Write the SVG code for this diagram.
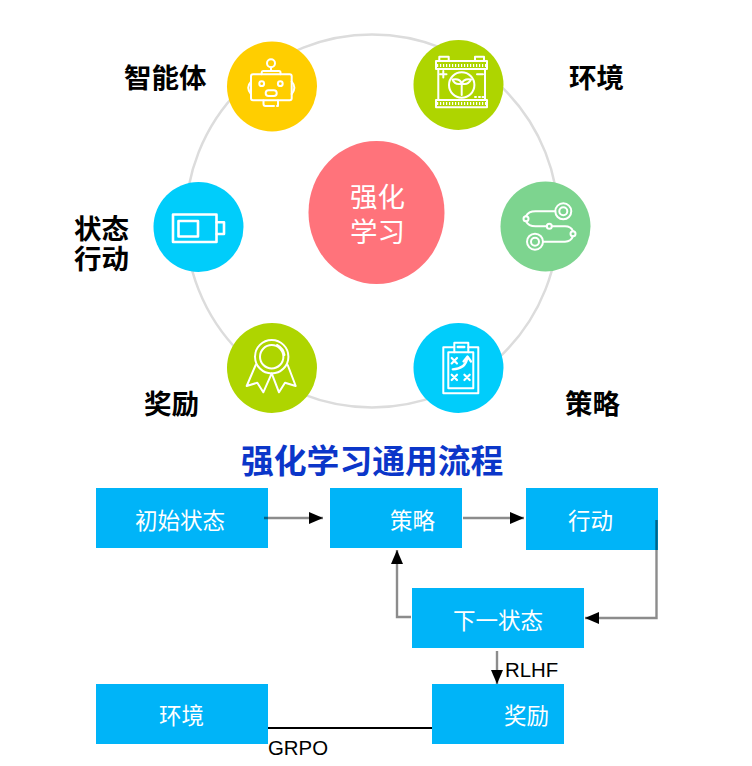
<svg xmlns="http://www.w3.org/2000/svg" width="752" height="766" viewBox="0 0 752 766">
<defs>
<style>
.lbl{font-family:"Noto Sans CJK SC",sans-serif;font-size:27.5px;font-weight:700;fill:#000}
.ctr{font-family:"Noto Sans CJK SC",sans-serif;font-size:27.5px;fill:#fff}
.ttl{font-family:"Noto Sans CJK SC",sans-serif;font-size:32.8px;font-weight:700;fill:#0b36c9}
.box{fill:#00b4f8}
.bt{font-family:"Noto Sans CJK SC",sans-serif;font-size:22.5px;fill:#fff}
.lat{font-family:"Liberation Sans",Arial,sans-serif;font-size:20.4px;fill:#000}
.ic{fill:none;stroke:#fff;stroke-width:2;stroke-linecap:round;stroke-linejoin:round}
.conn{fill:none;stroke:#000;stroke-opacity:.45;stroke-width:2.4}
</style>
<marker id="arr" markerUnits="userSpaceOnUse" markerWidth="14" markerHeight="12" refX="14" refY="6" orient="auto"><path d="M0 0L14 6L0 12Z" fill="#000"/></marker>
</defs>
<rect width="752" height="766" fill="#fff"/>
<circle id="ring" cx="372" cy="221" r="186.500" fill="none" stroke="#dcdcdc" stroke-width="2.500"/>
<g id="node-center"><ellipse cx="376.500" cy="212.500" rx="68" ry="71.500" fill="#ff737b"/><text class="ctr" x="350" y="207">强化</text><text class="ctr" x="350" y="242">学习</text></g>
<g id="node-agent"><circle cx="272" cy="86.500" r="45" fill="#ffce00"/>
<g class="ic"><circle cx="271" cy="63.300" r="4"/><path d="M271 67.300V71M261.700 74.300V72.500Q261.700 71 263 71H279Q280.500 71 280.500 72.500V74.300"/><rect x="251" y="74.300" width="40.700" height="26" rx="2"/><path d="M251 81.700Q245.500 87.500 251 94M291.700 81.700Q297 87.500 291.700 94"/><circle cx="261.700" cy="83.700" r="2.400"/><circle cx="280.300" cy="83.700" r="2.400"/><rect x="265.700" y="90.300" width="11" height="5.700" rx="2.800"/><path d="M263.500 100.500V104Q263.500 106 265.500 106H274M277 106H278V100.500"/></g>
<text class="lbl" x="124" y="87.500">智能体</text></g>
<g id="node-env"><circle cx="458.500" cy="85" r="45" fill="#aed500"/>
<g class="ic"><path d="M439.300 61V56.700H448.700V61M475 61V56.700H484V61"/><rect x="436" y="61" width="51" height="8"/><rect x="436" y="100" width="51" height="7.300"/><path d="M438.300 69V100M485 69V100"/><path d="M437 65.500H486M437 103.500H486" stroke-width="3" stroke-dasharray="1.200 1.800" stroke-linecap="butt"/><circle cx="461.700" cy="85" r="12.700"/><path d="M440 74.300H446.500M443.300 71V77.600M477 74.300H483M475 97H476M479 97H480M482.500 97H483.500"/><path d="M461.700 95V83.500M461.700 83.500Q460 78 452.500 79.500Q455 85.500 461.700 83.500M461.700 83.500Q464 78 471 79.500Q468 85.500 461.700 83.500"/></g>
<text class="lbl" x="569" y="87.500">环境</text></g>
<g id="node-state"><circle cx="198.500" cy="227" r="45" fill="#00cdfb"/>
<g class="ic" stroke-linecap="butt" stroke-linejoin="miter" style="stroke-width:2.600"><rect x="173" y="214.500" width="43.500" height="27.500"/><rect x="178.500" y="221" width="19.500" height="15.500"/><path d="M216.700 222.300H224V234H216.700"/></g>
<text class="lbl" x="74" y="238.500">状态</text><text class="lbl" x="74" y="268.500">行动</text></g>
<g id="node-policy-icon"><circle cx="545.500" cy="226.500" r="45" fill="#7dd48f"/>
<g class="ic"><circle cx="563.300" cy="211.300" r="8"/><circle cx="563.300" cy="211.300" r="4"/><circle cx="535" cy="241.700" r="8"/><circle cx="535" cy="241.700" r="4"/><path d="M555.300 211.300H535.500Q528.500 211.300 526 216.200M526 221.200Q528.500 226.300 535.500 226.300H546.800M551.800 226.300H565Q571 226.300 573 231.200M573 236.200Q571 241.700 565 241.700H543"/><circle cx="526" cy="218.700" r="2.500"/><circle cx="549.300" cy="226.300" r="2.500"/><circle cx="573" cy="233.700" r="2.500"/></g></g>
<g id="node-reward"><circle cx="272" cy="368" r="45" fill="#aed500"/>
<g class="ic"><circle cx="271.700" cy="356.700" r="16.700"/><circle cx="271.700" cy="356.700" r="11.700"/><path d="M277 345Q283.500 348.500 284.500 355"/><path d="M255.700 365L246.700 386L257.300 382.700L263.300 392.300L271.700 373.300L279 392.300L285 382.700L295.700 386L287.700 365"/></g>
<text class="lbl" x="144" y="413.500">奖励</text></g>
<g id="node-plan"><circle cx="458.500" cy="368" r="45" fill="#00cdfb"/>
<g class="ic" stroke-linecap="butt" stroke-linejoin="miter"><path d="M454.300 347.300H443.300V393.300H478.300V347.300H468.300"/><path d="M454.300 352.300H448.300V388.300H473.300V352.300H468.300"/><path d="M454.300 352.300V342.700H468.300V352.300H454.300"/><path d="M457.700 347H464.300" stroke-width="2.400"/><path d="M451.700 358L457 363.400M457 358L451.700 363.400M451.700 374.700L457 380M457 374.700L451.700 380M464.400 374.700L469.700 380M469.700 374.700L464.400 380" style="stroke-width:2.200"/><path d="M452.700 369.300Q465.500 369 467.300 358M463.500 361.500L467.500 356.500L471 361.500" style="stroke-width:2.200"/></g>
<text class="lbl" x="565" y="413.500">策略</text></g>
<text id="title" class="ttl" x="241" y="473">强化学习通用流程</text>
<g id="box-init"><rect class="box" x="96" y="488" width="172" height="60"/><text class="bt" x="135" y="529">初始状态</text></g>
<g id="box-policy"><rect class="box" x="330" y="488" width="132" height="60"/><text class="bt" x="390" y="529">策略</text></g>
<g id="box-action"><rect class="box" x="526" y="488" width="132" height="62"/><text class="bt" x="568" y="529">行动</text></g>
<g id="box-next"><rect class="box" x="412" y="588" width="172" height="60"/><text class="bt" x="453" y="629">下一状态</text></g>
<g id="box-env"><rect class="box" x="96" y="684" width="172" height="60"/><text class="bt" x="159" y="724">环境</text></g>
<g id="box-reward"><rect class="box" x="432" y="684" width="132" height="60"/><text class="bt" x="504" y="724">奖励</text></g>
<g id="connectors">
<path class="conn" d="M264 518H323" marker-end="url(#arr)"/>
<path class="conn" d="M463 518H524" marker-end="url(#arr)"/>
<path class="conn" d="M656.500 520V618H585" marker-end="url(#arr)"/>
<path class="conn" d="M411 617H397V550" marker-end="url(#arr)"/>
<path class="conn" d="M497 651V684" marker-end="url(#arr)"/>
<path d="M268 728H432" fill="none" stroke="#000" stroke-width="2"/>
<text class="lat" x="505" y="677">RLHF</text>
<text class="lat" x="268" y="755">GRPO</text>
</g>
</svg>
